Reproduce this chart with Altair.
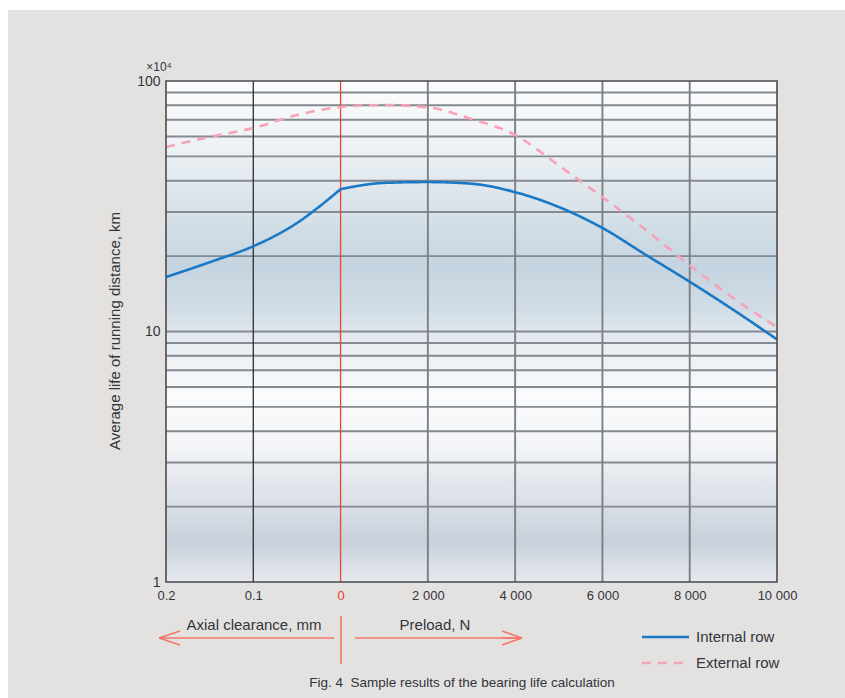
import altair as alt
import pandas as pd

# ---- data ----
# left half: axial clearance (mm), right half: preload (N)
int_clear_mm = [0.2, 0.15, 0.1, 0.075, 0.05, 0.025, 0.0]
int_clear_life = [16.5, 18.9, 21.9, 24.1, 27.1, 31.4, 37.0]
int_preload_N = [0, 1000, 2000, 3000, 4000, 5000, 6000, 7000, 8000, 9000, 10000]
int_preload_life = [37.0, 39.2, 39.5, 38.9, 36.0, 31.4, 25.9, 20.2, 15.8, 12.2, 9.3]

ext_clear_mm = [0.2, 0.15, 0.1, 0.05, 0.0]
ext_clear_life = [54.5, 59.8, 64.9, 73.1, 78.7]
ext_preload_N = [1000, 2000, 3000, 4000, 5000, 6000, 7000, 8000, 9000, 10000]
ext_preload_life = [80.2, 78.5, 70.5, 60.9, 46.0, 34.4, 25.4, 18.4, 13.6, 10.4]

x_ticks = [-2, -1, 0, 1, 2, 3, 4, 5]          # position units: 0.1 mm / 2000 N each
y_ticks = [1, 10, 100]
y_grid = [2, 3, 4, 5, 6, 7, 8, 9, 20, 30, 40, 50, 60, 70, 80, 90]

W, H = 611, 501
FONT = "Liberation Sans"
TXT = "#33343c"

rows = []
# internal row: two pieces joined with a corner at zero
for c, v in zip(int_clear_mm, int_clear_life):
    rows.append({"series": "Internal row", "seg": "i1", "u": -c * 10, "life": v})
for p, v in zip(int_preload_N, int_preload_life):
    rows.append({"series": "Internal row", "seg": "i2", "u": p / 2000, "life": v})
# external row: one smooth piece
for c, v in zip(ext_clear_mm, ext_clear_life):
    rows.append({"series": "External row", "seg": "e", "u": -c * 10, "life": v})
for p, v in zip(ext_preload_N, ext_preload_life):
    rows.append({"series": "External row", "seg": "e", "u": p / 2000, "life": v})
curves = pd.DataFrame(rows)

xs = alt.Scale(domain=[x_ticks[0], x_ticks[-1]], nice=False, zero=False)
ys = alt.Scale(type="log", domain=[y_ticks[0], y_ticks[-1]], nice=False)

label_expr = ("datum.value < 0 ? format(-datum.value/10, '.1f') : "
              "(datum.value == 0 ? '0' : replace(format(datum.value*2000, ','), ',', ' '))")

# grey page panel (white margin at top/left as in the reference)
panel = alt.Chart(pd.DataFrame({"a": [0]})).mark_rect(color="#e3e2e0").encode(
    x=alt.value(-158), x2=alt.value(W + 68), y=alt.value(-71), y2=alt.value(H + 116))

# background gradient of the plot area
bg = alt.Chart(pd.DataFrame({"x": [x_ticks[0]], "x2": [x_ticks[-1]],
                             "y": [y_ticks[0]], "y2": [y_ticks[-1]]})).mark_rect(
    fill={"gradient": "linear", "x1": 0, "y1": 0, "x2": 0, "y2": 1,
          "stops": [
              {"offset": 0.0, "color": "#fbfcfd"},
              {"offset": 0.12, "color": "#eff3f6"},
              {"offset": 0.25, "color": "#d9e3ea"},
              {"offset": 0.37, "color": "#c4d4e0"},
              {"offset": 0.46, "color": "#d2dde6"},
              {"offset": 0.53, "color": "#e9eef2"},
              {"offset": 0.63, "color": "#fafbfc"},
              {"offset": 0.73, "color": "#f2f4f7"},
              {"offset": 0.85, "color": "#d9dee6"},
              {"offset": 0.92, "color": "#c9d1dc"},
              {"offset": 1.0, "color": "#e6e9ee"},
          ]}
).encode(
    x=alt.X("x:Q", scale=xs,
            axis=alt.Axis(values=x_ticks, labelExpr=label_expr, ticks=False, domain=False,
                          grid=False, labelFontSize=13, labelFont=FONT, labelPadding=7,
                          labelFlush=False, title=None, zindex=2,
                          labelColor={"condition": {"test": "datum.value === 0",
                                                    "value": "#ee3b2b"},
                                      "value": TXT})),
    x2="x2:Q",
    y=alt.Y("y:Q", scale=ys,
            axis=alt.Axis(values=y_ticks, format="d", ticks=False, domain=False, grid=False,
                          labelFontSize=14, labelFont=FONT, labelPadding=6, zindex=2,
                          labelFlush=False, title=None, labelColor=TXT)),
    y2="y2:Q",
)

hgrid = alt.Chart(pd.DataFrame({"v": y_grid + [10]})).mark_rule(
    color="#858990", strokeWidth=1.9).encode(y=alt.Y("v:Q", scale=ys))

vcol = {-1: "#2e2e33", 0: "#ee4533"}
vg = pd.DataFrame({"u": x_ticks[1:-1],
                   "c": [vcol.get(u, "#7c8086") for u in x_ticks[1:-1]],
                   "w": [1.3 if u in vcol else 1.9 for u in x_ticks[1:-1]]})
vgrid = alt.Chart(vg).mark_rule().encode(
    x=alt.X("u:Q", scale=xs),
    color=alt.Color("c:N", scale=None),
    strokeWidth=alt.StrokeWidth("w:Q", scale=None),
)

series_dom = ["Internal row", "External row"]
col_scale = alt.Scale(domain=series_dom, range=["#1a78c4", "#f7a2b6"])
dash_scale = alt.Scale(domain=series_dom, range=[[1, 0], [9, 7]])

lines = alt.Chart(curves).mark_line(interpolate="monotone", strokeWidth=2.6).encode(
    x=alt.X("u:Q", scale=xs),
    y=alt.Y("life:Q", scale=ys),
    detail="seg:N",
    color=alt.Color("series:N", scale=col_scale, legend=None),
    strokeDash=alt.StrokeDash("series:N", scale=dash_scale, legend=None),
)

border = alt.Chart(pd.DataFrame({"a": [0]})).mark_rect(
    filled=False, stroke="#4a4a4f", strokeWidth=1.6).encode(
    x=alt.value(0), x2=alt.value(W), y=alt.value(0), y2=alt.value(H))

# ---- annotations below the plot (pixel offsets relative to plot origin) ----
red = "#f3776a"
segs = pd.DataFrame({
    "x": [-7, -7, -7, 189, 356, 356, 336],
    "x2": [168, 14, 14, 356, 336, 336, 356],
    "y": [557, 557, 557, 557, 557, 557, 557],
    "y2": [557, 550, 564, 557, 550, 564, 557],
})
arrows = alt.Chart(segs).mark_rule(color=red, strokeWidth=1.6).encode(
    x=alt.X("x:Q", scale=None), x2="x2:Q", y=alt.Y("y:Q", scale=None), y2="y2:Q")
vtick = alt.Chart(pd.DataFrame({"a": [0]})).mark_rule(color=red, strokeWidth=1.6).encode(
    x=alt.value(175), y=alt.value(535), y2=alt.value(583))

ann_text = pd.DataFrame({
    "t": ["Axial clearance, mm", "Preload, N"],
    "x": [88, 269], "y": [544, 544],
})
ann = alt.Chart(ann_text).mark_text(font=FONT, fontSize=15, color=TXT, baseline="middle",
                                    align="center").encode(
    x=alt.X("x:Q", scale=None), y=alt.Y("y:Q", scale=None), text="t:N")

# legend
leg = pd.DataFrame({"series": series_dom, "y": [556, 582]})
leg_lines = alt.Chart(leg).mark_rule(strokeWidth=2.6).encode(
    x=alt.value(476), x2=alt.value(523), y=alt.Y("y:Q", scale=None),
    color=alt.Color("series:N", scale=col_scale, legend=None),
    strokeDash=alt.StrokeDash("series:N", scale=dash_scale, legend=None),
)
leg_text = alt.Chart(leg).mark_text(font=FONT, fontSize=15, color=TXT, align="left",
                                    baseline="middle").encode(
    x=alt.value(530), y=alt.Y("y:Q", scale=None), text="series:N")

caption = alt.Chart(pd.DataFrame({
    "t": ["Fig. 4\u00a0\u00a0Sample results of the bearing life calculation"]})).mark_text(
    font=FONT, fontSize=13.5, color=TXT, align="center", baseline="middle").encode(
    x=alt.value(296), y=alt.value(602), text="t:N")

exp = alt.Chart(pd.DataFrame({"t": ["×10⁴"]})).mark_text(
    font=FONT, fontSize=12, color=TXT, align="center", baseline="middle").encode(
    x=alt.value(-7), y=alt.value(-14), text="t:N")

ytitle = alt.Chart(pd.DataFrame({"t": ["Average life of running distance, km"]})).mark_text(
    font=FONT, fontSize=15, color=TXT, angle=270, align="center", baseline="middle").encode(
    x=alt.value(-51), y=alt.value(250), text="t:N")

chart = alt.layer(panel, bg, hgrid, vgrid, lines, border, arrows, vtick, ann, leg_lines,
                  leg_text, caption, exp, ytitle).properties(
    width=W, height=H,
    autosize=alt.AutoSizeParams(type="none"),
    padding={"left": 166, "top": 81, "right": 68, "bottom": 116},
    background="#ffffff",
).configure_view(strokeWidth=0)

chart.save("out.html", embed_options={"renderer": "svg", "actions": False})
